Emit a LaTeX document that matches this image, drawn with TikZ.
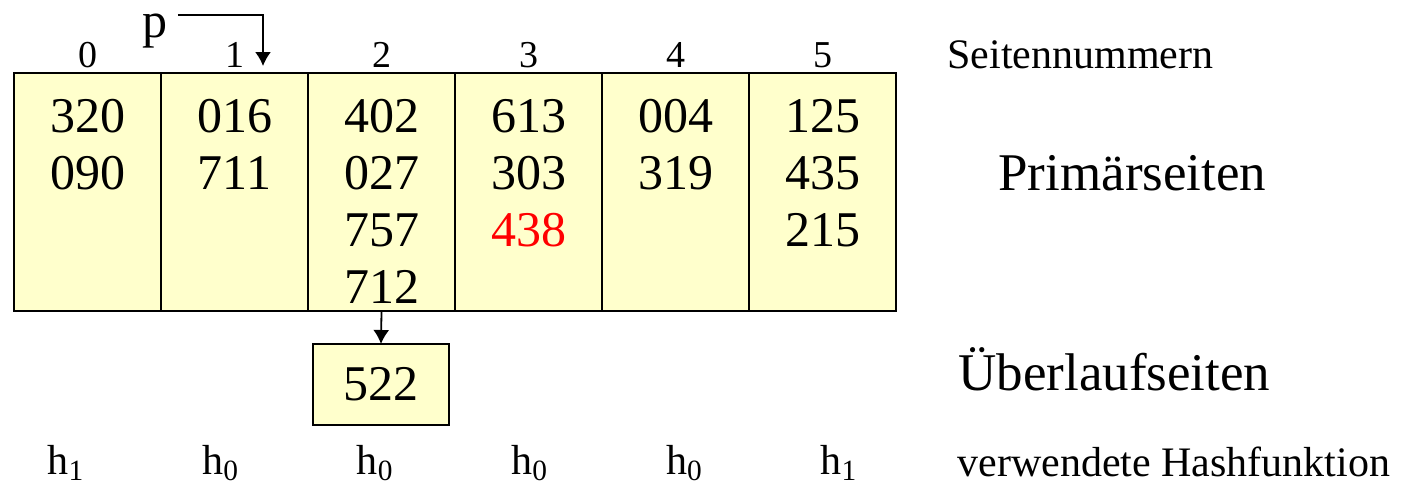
\documentclass[tikz,border=0pt]{standalone}
\usepackage{fontspec}
\setmainfont{Liberation Serif}
\usetikzlibrary{calc,arrows.meta}
\definecolor{pagefill}{HTML}{FFFFCC}
\begin{document}
\begin{tikzpicture}[x=0.5pt,y=-0.5pt,
    page/.style={draw, line width=1.3pt, fill=pagefill, minimum width=73.5pt, minimum height=119pt, inner sep=0pt, outer sep=0pt},
    overpage/.style={page, minimum width=68pt, minimum height=40.5pt, font=\fontsize{25}{30}\selectfont},
    val/.style={anchor=base, inner sep=0pt, font=\fontsize{25}{30}\selectfont},
    idx/.style={anchor=base, inner sep=0pt, font=\fontsize{19}{22}\selectfont},
    small/.style={anchor=base west, inner sep=0pt, font=\fontsize{21}{25}\selectfont},
    big/.style={anchor=base west, inner sep=0pt, font=\fontsize{26.5}{30}\selectfont},
    ptr/.style={line width=0.9pt, -{Latex[length=7pt,width=8pt]}}]
    \useasboundingbox (0,0) rectangle (1411,488);

    % Primaerseiten mit Seitennummern
    \foreach \i in {0,...,5} {
        \node[page] (c\i) at (87.5+147*\i,192) {};
        \node[idx] (n\i) at ($(c\i.north)+(0,-6)$) {\i};
    }
    \foreach \col/\vals in {0/{320,090}, 1/{016,711}, 2/{402,027,757,712},
            3/{613,303,\textcolor{red}{438}}, 4/{004,319}, 5/{125,435,215}}
        \foreach \v [count=\r] in \vals
            \node[val] (v\col-\r) at ($(c\col.north)+(0,2+57*\r)$) {\v};

    % Zeiger p
    \node[val] (p) at (155,37) {p};
    \coordinate (ptip) at (263,66);
    \draw[ptr] ([xshift=5pt,yshift=-1pt]p.north east) -| (ptip);

    % Ueberlaufseite
    \node[overpage] (ov) at (381,384.5) {522};
    \draw[ptr] (c2.south) -- (ov.north);

    % Hashfunktionen
    \foreach \h [count=\i from 0] in {1,0,0,0,0,1}
        \node[anchor=base, inner sep=0pt, font=\fontsize{21}{25}\selectfont] (h\i) at (66+154.6*\i,474) {h\textsubscript{\h}};

    \node[small] (lblnum) at (947,68) {Seitennummern};
    \node[big] (lblprim) at (998,190) {Primärseiten};
    \node[big] (lblover) at (958,390) {Überlaufseiten};
    \node[small] (lblhash) at (957,476) {verwendete Hashfunktion};
\end{tikzpicture}
\end{document}
